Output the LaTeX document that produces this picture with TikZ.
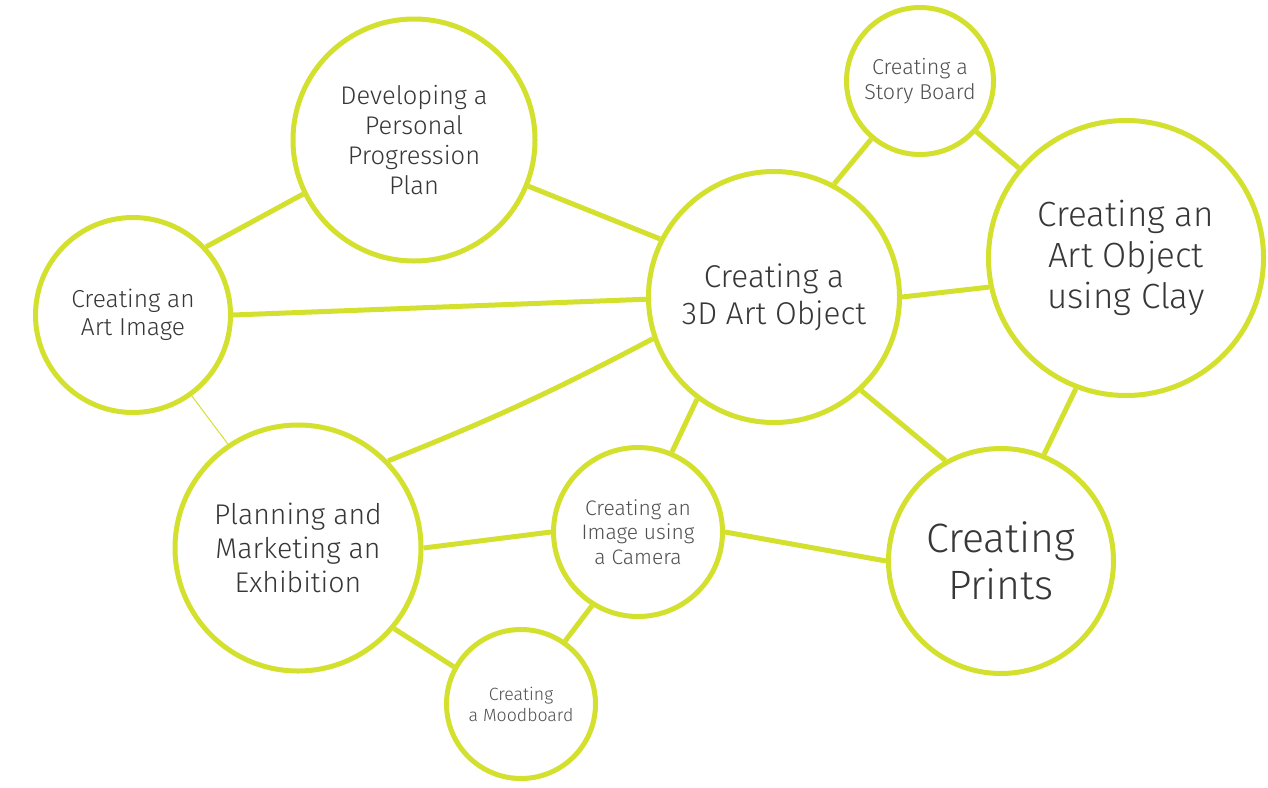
\documentclass[tikz,border=0pt]{standalone}
\usepackage{fontspec}
\setmainfont{Fira Sans}[UprightFont=* Light]
\definecolor{ring}{RGB}{212,224,46}
\definecolor{txt}{RGB}{55,55,55}
\definecolor{txtl}{RGB}{80,80,80}
\begin{document}
\begin{tikzpicture}[x=1pt,y=-1pt,
  bub/.style={circle,draw=ring,line width=5pt,inner sep=0pt,align=center,text=txt,fill=white},
  link/.style={draw=ring,line width=5pt},
  thinlink/.style={draw=ring,line width=1pt}]
\useasboundingbox[fill=white] (0,0) rectangle (1268,787);
\node[bub,minimum size=242pt,font=\fontsize{25.5}{30}\selectfont] (dev) at (414,140) {Developing a\\Personal\\Progression\\Plan};
\node[bub,minimum size=195pt,font=\fontsize{24.5}{28.5}\selectfont] (art) at (133,315) {Creating an\\Art Image};
\node[bub,minimum size=246pt,font=\fontsize{28.5}{34}\selectfont] (plan) at (298,548) {Planning and\\Marketing an\\Exhibition};
\node[bub,minimum size=169pt,text=txtl,font=\fontsize{21}{24.5}\selectfont] (cam) at (638,532) {Creating an\\Image using\\a Camera};
\node[bub,minimum size=149pt,text=txtl,font=\fontsize{17.7}{21}\selectfont] (mood) at (521,704) {Creating\\a Moodboard};
\node[bub,minimum size=251pt,font=\fontsize{31.5}{37}\selectfont] (obj) at (774,297) {Creating a\\3D Art Object};
\node[bub,minimum size=225pt,font=\fontsize{41}{47}\selectfont] (prints) at (1001,561) {Creating\\Prints};
\node[bub,minimum size=275pt,font=\fontsize{35}{41}\selectfont] (clay) at (1126,258) {Creating an\\Art Object\\using Clay};
\node[bub,minimum size=147pt,text=txtl,font=\fontsize{21.5}{25}\selectfont] (story) at (920,81) {Creating a\\Story Board};
\draw[link] (dev.206.8) -- (art.43);
\draw[link] (dev.-22) -- (obj.153.4);
\draw[link] (art.0) -- (obj.181);
\draw[thinlink] (art.-54.5) -- (plan.124);
\draw[link] (plan.44.7) to[bend right=3] (obj.199);
\draw[link] (plan.0) -- (cam.180);
\draw[link] (plan.-40) -- (mood.151.4);
\draw[link] (mood.55.5) -- (cam.238.5);
\draw[link] (cam.67) -- (obj.233.5);
\draw[link] (cam.-0.7) -- (prints.180.5);
\draw[link] (obj.-47.2) -- (prints.119.4);
\draw[link] (obj.0.5) -- (clay.192);
\draw[link] (obj.62.6) -- (story.230.9);
\draw[link] (story.-42.4) -- (clay.140.5);
\draw[link] (clay.249) -- (prints.68.4);
\end{tikzpicture}
\end{document}
